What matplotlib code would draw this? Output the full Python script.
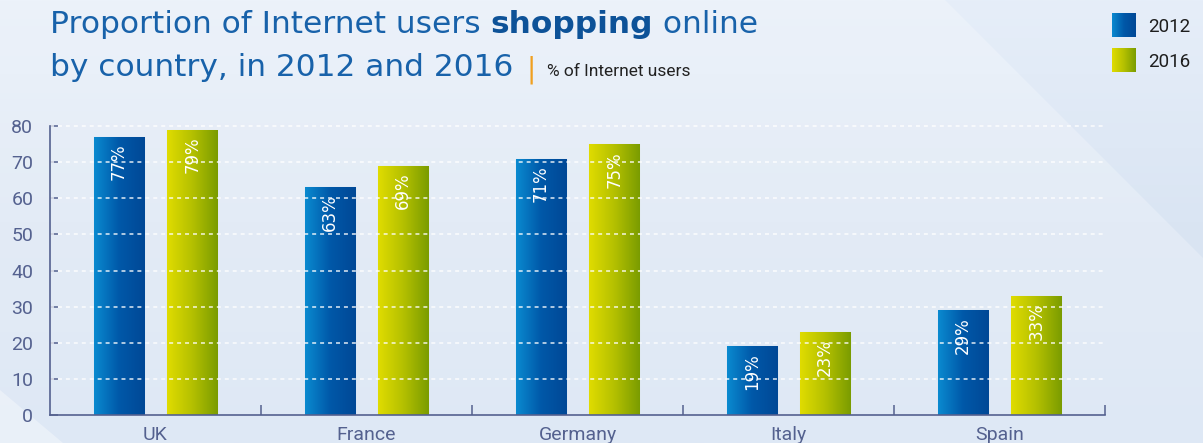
import matplotlib
matplotlib.use("Agg")
import matplotlib.pyplot as plt
import numpy as np
from matplotlib.colors import LinearSegmentedColormap
from matplotlib.patches import Polygon

countries = ["UK", "France", "Germany", "Italy", "Spain"]
years = ["2012", "2016"]
share_2012 = [77, 63, 71, 19, 29]
share_2016 = [79, 69, 75, 23, 33]
y_ticks = [0, 10, 20, 30, 40, 50, 60, 70, 80]

W, H = 1203, 443
DPI = 100
AXIS_COL = "#54618f"
blue_cmap = LinearSegmentedColormap.from_list("b", ["#0a8ad0", "#0058a8", "#004896"])
green_cmap = LinearSegmentedColormap.from_list("g", ["#e0dc00", "#b4c000", "#7a9c00"])

fig = plt.figure(figsize=(W / DPI, H / DPI), dpi=DPI)

# background
bg = fig.add_axes([0, 0, 1, 1], zorder=-10)
bg.set_xlim(0, W)
bg.set_ylim(H, 0)
bg.axis("off")
grad = np.linspace(0, 1, 256).reshape(-1, 1)
bg_cmap = LinearSegmentedColormap.from_list("bg", ["#e6eef9", "#dae5f3", "#d4e1f2"])
bg.imshow(grad, cmap=bg_cmap, extent=[0, W, H, 0], aspect="auto")
bg.add_patch(Polygon([(0, 0), (945, 0), (1388, 443), (0, 443)], closed=True,
                     facecolor="white", alpha=0.25, lw=0))
bg.add_patch(Polygon([(0, 390), (63, 443), (0, 443)], closed=True,
                     facecolor="white", alpha=0.35, lw=0))

# main axes
ax = fig.add_axes([50 / W, (H - 415) / H, 1055 / W, 289 / H])
ax.patch.set_alpha(0)
ax.set_xlim(-0.5, len(countries) - 0.5)
ax.set_ylim(0, 80)

x = np.arange(len(countries))
bw = 0.237
off = 0.174
bars_a = ax.bar(x - off, share_2012, bw, color="#0068b4", edgecolor="#a9cbeb", linewidth=0.8, zorder=1)
bars_b = ax.bar(x + off, share_2016, bw, color="#b0c000", edgecolor="#d8e6b0", linewidth=0.8, zorder=1)

hgrad = np.linspace(0, 1, 256).reshape(1, -1)
for bars, cmap, vals in ((bars_a, blue_cmap, share_2012), (bars_b, green_cmap, share_2016)):
    for p, v in zip(bars, vals):
        x0, y0 = p.get_x(), p.get_y()
        im = ax.imshow(hgrad, cmap=cmap, extent=[x0, x0 + p.get_width(), y0, y0 + p.get_height()],
                       aspect="auto", zorder=1.1)
        im.set_clip_path(p)
        ax.annotate(f"{v}%", xy=(x0 + p.get_width() / 2, v), xytext=(0, -5),
                    textcoords="offset points", rotation=90, ha="center", va="top",
                    color="white", fontsize=12, family="DejaVu Sans", zorder=3)

# dashed white grid, drawn over the bars, skipping the baseline
for t in y_ticks[1:]:
    ax.axhline(t, color="white", linestyle=(0, (2.2, 2.2)), linewidth=1.3, alpha=0.75,
               zorder=2, clip_on=False)

ax.set_yticks(y_ticks)
ax.set_yticklabels([str(t) for t in y_ticks], fontsize=14, family="Roboto", color=AXIS_COL)
ax.tick_params(axis="y", direction="in", length=6, width=1.1, color=AXIS_COL, pad=12)
ax.set_xticks(x)
ax.set_xticklabels(countries, fontsize=14, family="Roboto", color=AXIS_COL)
ax.set_xticks(np.arange(len(countries)) + 0.5, minor=True)
ax.tick_params(axis="x", which="major", length=0, pad=8)
ax.tick_params(axis="x", which="minor", direction="in", length=7, width=1.1, color=AXIS_COL)
for s in ("top", "right"):
    ax.spines[s].set_visible(False)
for s in ("left", "bottom"):
    ax.spines[s].set_color(AXIS_COL)
    ax.spines[s].set_linewidth(1.2)
    ax.spines[s].set_zorder(4)

# title pieces
fig.canvas.draw()
r = fig.canvas.get_renderer()


def put(px, py, s, **kw):
    t = fig.text(px / W, 1 - py / H, s, va="baseline", ha="left", **kw)
    bb = t.get_window_extent(renderer=r)
    return px + bb.width


TITLE_COL = "#1862aa"
tkw = dict(fontsize=22.5, family="DejaVu Sans", color=TITLE_COL)
px = put(50, 33, "Proportion of Internet users ", **tkw)
px = put(px, 33, "shopping", fontweight="bold", **{**tkw, "color": "#0d5298"})
put(px, 33, " online", **tkw)
px = put(50, 76, "by country, in 2012 and 2016", **tkw)
fig.text((px + 18) / W, 1 - 77 / H, "|", fontsize=20, color="#f0a020", ha="center",
         va="baseline", family="DejaVu Sans")
put(px + 34, 76, "% of Internet users", fontsize=12.5, family="Roboto", color="#222222")

# legend
for i, (yr, cmap) in enumerate(zip(years, (blue_cmap, green_cmap))):
    top = 13 + i * 35
    lax = fig.add_axes([1112 / W, 1 - (top + 24) / H, 24 / W, 24 / H])
    lax.imshow(hgrad, cmap=cmap, aspect="auto")
    lax.axis("off")
    fig.text(1148 / W, 1 - (top + 19) / H, yr, fontsize=13.5, family="Roboto",
             color="#1e1e1e", va="baseline")

fig.savefig("out.png", dpi=DPI)
